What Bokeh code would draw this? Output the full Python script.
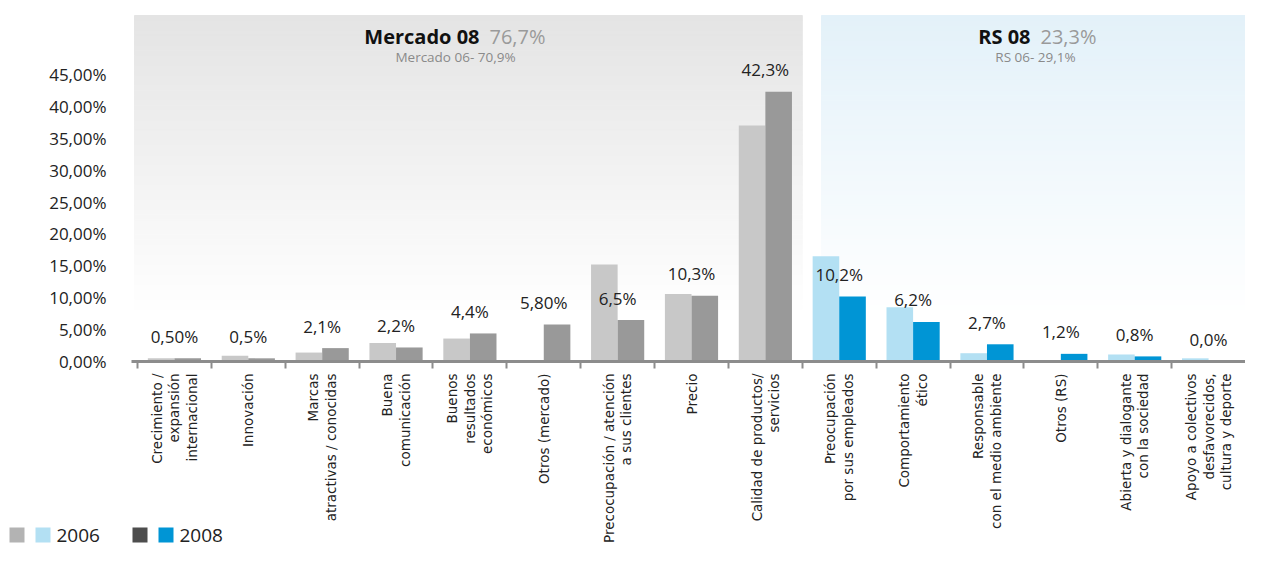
import math
from bokeh.plotting import figure
from bokeh.models import FixedTicker, Range1d, ColumnDataSource
from bokeh.transform import dodge
from bokeh.core.properties import value
from bokeh.embed import file_html
from bokeh.resources import INLINE

# ---------------- data ----------------
categories = [
    "Crecimiento /\nexpansión\ninternacional",
    "Innovación",
    "Marcas\natractivas / conocidas",
    "Buena\ncomunicación",
    "Buenos\nresultados\neconómicos",
    "Otros (mercado)",
    "Precocupación / atención\na sus clientes",
    "Precio",
    "Calidad de productos/\nservicios",
    "Preocupación\npor sus empleados",
    "Comportamiento\nético",
    "Responsable\ncon el medio ambiente",
    "Otros (RS)",
    "Abierta y dialogante\ncon la sociedad",
    "Apoyo a colectivos\ndesfavorecidos,\ncultura y deporte",
]
groups = ["Mercado"] * 9 + ["RS"] * 6
values_2006 = [0.5, 0.9, 1.4, 2.9, 3.6, 0.0, 15.2, 10.6, 37.0, 16.5, 8.5, 1.3, 0.0, 1.1, 0.5]
values_2008 = [0.5, 0.5, 2.1, 2.2, 4.4, 5.8, 6.5, 10.3, 42.3, 10.2, 6.2, 2.7, 1.2, 0.8, 0.0]
value_labels = ["0,50%", "0,5%", "2,1%", "2,2%", "4,4%", "5,80%", "6,5%", "10,3%",
                "42,3%", "10,2%", "6,2%", "2,7%", "1,2%", "0,8%", "0,0%"]
y_ticks = [0, 5, 10, 15, 20, 25, 30, 35, 40, 45]
y_tick_labels = ["0,00%", "5,00%", "10,00%", "15,00%", "20,00%", "25,00%",
                 "30,00%", "35,00%", "40,00%", "45,00%"]
series = ["2006", "2008"]
panel_titles = ["Mercado 08", "RS 08"]
panel_share_2008 = ["76,7%", "23,3%"]
panel_share_2006 = ["Mercado 06- 70,9%", "RS 06- 29,1%"]

# ---------------- styles / geometry ----------------
color_2006 = {"Mercado": "#c8c8c8", "RS": "#b3e0f3"}
color_2008 = {"Mercado": "#999999", "RS": "#0095d5"}
legend_colors = ["#b3b3b3", "#b3e0f3", "#4d4d4d", "#0095d5"]
FONT = "Open Sans"
LABEL_FONT = "DejaVu Sans"

W, H = 1245, 547
PXU = (W - 137) / 15.0          # px per category
PYU = (361 - 74) / 45.0         # px per percent
def dx(px):                      # canvas px -> data x
    return (px - 137) / PXU - 0.5
def dy(py):                      # canvas px -> data y
    return (361 - py) / PYU

n = len(categories)
idx = list(range(n))
src = ColumnDataSource(dict(
    x=idx,
    v2006=values_2006,
    v2008=values_2008,
    c2006=[color_2006[g] for g in groups],
    c2008=[color_2008[g] for g in groups],
    lab=value_labels,
    laby=[v + 22 / PYU for v in values_2008],
))

p = figure(width=W, height=H, output_backend="svg", toolbar_location=None,
           x_range=Range1d(dx(0), dx(W)), y_range=Range1d(dy(H), dy(0)),
           min_border_left=0, min_border_right=0, min_border_top=0,
           min_border_bottom=0)
p.outline_line_color = None
p.xgrid.visible = False
p.ygrid.visible = False
p.background_fill_color = "white"
p.border_fill_color = "white"

# --- gradient panels (styling) ---
def lerp(c1, c2, t):
    a = [int(c1[i:i + 2], 16) for i in (1, 3, 5)]
    b = [int(c2[i:i + 2], 16) for i in (1, 3, 5)]
    return "#%02x%02x%02x" % tuple(round(a[k] + (b[k] - a[k]) * t) for k in range(3))

panels = [(dx(134), 8.5, "#e4e4e4"), (dx(821), 14.5, "#e3f1f9")]
nb = 60
ybot, ytop = dy(314), dy(15)
for (l, r, top_c) in panels:
    bots = [ybot + (ytop - ybot) * k / nb for k in range(nb)]
    tops = [ybot + (ytop - ybot) * (k + 1) / nb for k in range(nb)]
    cols = [lerp("#ffffff", top_c, (k + 0.5) / nb) for k in range(nb)]
    p.quad(left=[l] * nb, right=[r] * nb, bottom=bots, top=tops,
           fill_color=cols, line_color=cols, line_width=1)

# --- bars ---
bw = 0.36
p.vbar(x=dodge("x", -0.18, range=p.x_range), top="v2006", width=bw, bottom=0,
       fill_color="c2006", line_color=None, source=src)
p.vbar(x=dodge("x", 0.18, range=p.x_range), top="v2008", width=bw, bottom=0,
       fill_color="c2008", line_color=None, source=src)

# --- axis base line ---
p.segment(x0=[dx(131)], y0=[0], x1=[14.5], y1=[0], line_color="#8c8c8c", line_width=3)

# --- value labels ---
p.text(x="x", y="laby", text="lab", source=src, text_align="center",
       text_baseline="middle", text_font=value(FONT), text_font_size="17px",
       text_color="#222222")

# --- panel headers ---
title_y, sub_y = dy(36), dy(56)
hdr = [(dx(479), dx(489), dx(455)), (dx(1030), dx(1040), dx(1035))]
for k in range(2):
    xr, xl, xc = hdr[k]
    p.text(x=[xr], y=[title_y], text=[panel_titles[k]], text_align="right",
           text_baseline="middle", text_font=value(FONT), text_font_size="20px",
           text_font_style="bold", text_color="#111111")
    p.text(x=[xl], y=[title_y], text=[panel_share_2008[k]], text_align="left",
           text_baseline="middle", text_font=value(FONT), text_font_size="20px",
           text_color="#9a9a9a")
    p.text(x=[xc], y=[sub_y], text=[panel_share_2006[k]], text_align="center",
           text_baseline="middle", text_font=value(FONT), text_font_size="13.5px",
           text_color="#8a8a8a")

# --- x axis (fixed at y = 0) ---
xa = p.xaxis[0]
xa.fixed_location = 0
xa.ticker = FixedTicker(ticks=idx, minor_ticks=[i - 0.5 for i in range(n)])
xa.major_label_overrides = {i: categories[i] for i in idx}
xa.major_label_orientation = math.pi / 2
xa.major_tick_out = 0
xa.major_tick_in = 0
xa.minor_tick_out = 7
xa.minor_tick_in = 0
xa.minor_tick_line_color = "#8c8c8c"
xa.minor_tick_line_width = 2
xa.axis_line_color = None
xa.major_label_standoff = 5
xa.major_label_text_font = LABEL_FONT
xa.major_label_text_font_size = "13.5px"
xa.major_label_text_color = "#222222"
xa.major_label_text_line_height = 1.1

# --- y axis (fixed at left edge of chart area) ---
ya = p.yaxis[0]
ya.fixed_location = dx(131)
ya.ticker = FixedTicker(ticks=y_ticks)
ya.major_label_overrides = {y_ticks[i]: y_tick_labels[i] for i in range(len(y_ticks))}
ya.axis_line_color = None
ya.major_tick_line_color = None
ya.minor_tick_line_color = None
ya.major_tick_out = 0
ya.major_tick_in = 0
ya.minor_tick_out = 0
ya.major_label_standoff = 25
ya.major_label_text_font = FONT
ya.major_label_text_font_size = "17px"
ya.major_label_text_color = "#222222"

# --- legend ---
sq_px = [9, 35, 132, 158]
lg_top, lg_bot = 527, 542
p.quad(left=[dx(v) for v in sq_px], right=[dx(v + 15) for v in sq_px],
       top=[dy(lg_top)] * 4, bottom=[dy(lg_bot)] * 4,
       fill_color=legend_colors, line_color=None)
p.text(x=[dx(56), dx(179)], y=[dy(534.5)] * 2, text=series, text_align="left",
       text_baseline="middle", text_font=value(FONT), text_font_size="19px",
       text_color="#222222")

open("out.html", "w").write(file_html(p, INLINE))
